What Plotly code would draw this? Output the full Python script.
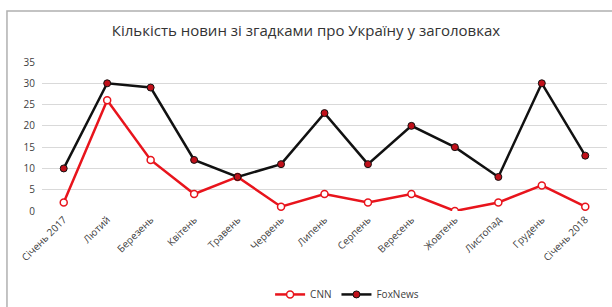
import plotly.graph_objects as go

months = ["Січень 2017", "Лютий", "Березень", "Квітень", "Травень", "Червень",
          "Липень", "Серпень", "Вересень", "Жовтень", "Листопад", "Грудень", "Січень 2018"]
cnn = [2, 26, 12, 4, 8, 1, 4, 2, 4, 0, 2, 6, 1]
fox = [10, 30, 29, 12, 8, 11, 23, 11, 20, 15, 8, 30, 13]
y_ticks = [0, 5, 10, 15, 20, 25, 30, 35]

fig = go.Figure()
fig.add_trace(go.Scatter(
    x=months, y=cnn, name="CNN", mode="lines+markers",
    line=dict(color="#e8141c", width=2.5),
    marker=dict(symbol="circle", size=7, color="white",
                line=dict(color="#e8141c", width=1.5)),
))
fig.add_trace(go.Scatter(
    x=months, y=fox, name="FoxNews", mode="lines+markers",
    line=dict(color="#111111", width=2.5),
    marker=dict(symbol="circle", size=7, color="#c0101a",
                line=dict(color="#111111", width=1)),
))

fig.update_layout(
    width=612, height=307,
    margin=dict(l=42, r=5, t=62, b=96, autoexpand=False),
    paper_bgcolor="white", plot_bgcolor="white",
    font=dict(family="Open Sans, Liberation Sans, sans-serif", color="#404040", size=10),
    title=dict(text="Кількість новин зі згадками про Україну у заголовках",
               x=0.5, xanchor="center", y=0.9, yanchor="middle",
               font=dict(size=15, color="#333333")),
    showlegend=True,
    legend=dict(orientation="h", x=0.54, xanchor="center", y=-0.56, yanchor="middle",
                font=dict(size=10, color="#404040"), itemwidth=30),
    shapes=[dict(type="rect", xref="paper", yref="paper",
                 x0=-0.062, x1=1.02, y0=-0.7, y1=1.342,
                 line=dict(color="#b0b0b0", width=1.5), fillcolor="rgba(0,0,0,0)",
                 layer="above")],
)
fig.update_xaxes(
    type="category", tickangle=-45, showgrid=False, zeroline=False,
    showline=False, ticks="", range=[-0.5, len(months) - 0.5], automargin=False,
    tickfont=dict(size=10, color="#404040"),
)
fig.update_yaxes(
    range=[0, 35], tickvals=y_ticks, showgrid=True, gridcolor="#d9d9d9",
    gridwidth=1.2, zeroline=False, showline=False, ticks="", automargin=False,
    ticklabelstandoff=6,
    tickfont=dict(size=10, color="#404040"),
)

fig.write_html("out.html", config={"displayModeBar": False},
               post_script="document.body.style.margin='0';document.body.style.overflow='hidden';")
